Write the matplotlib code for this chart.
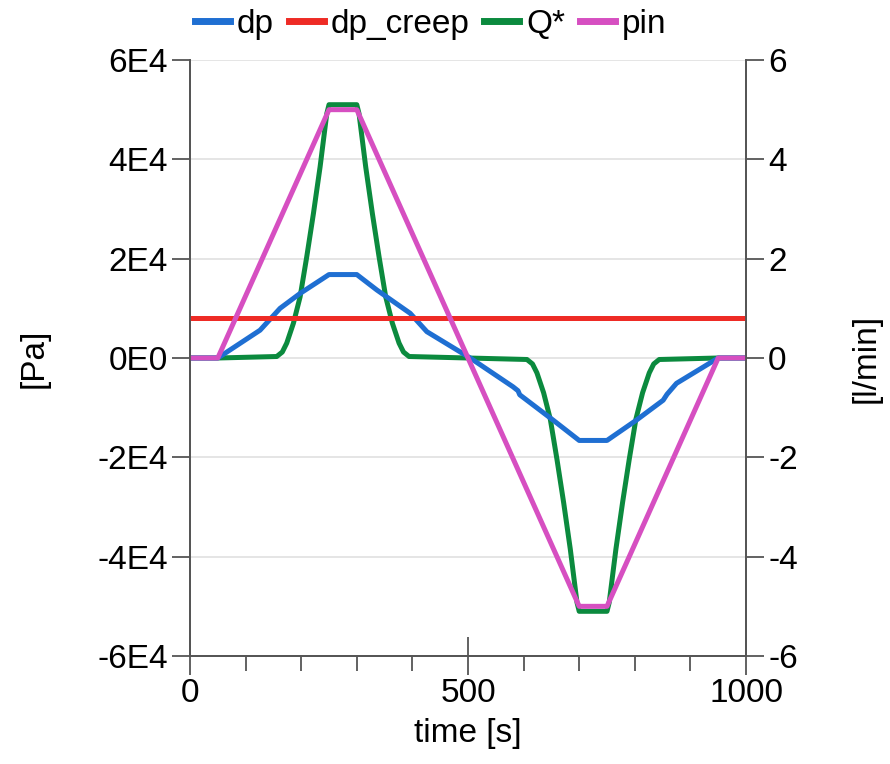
import matplotlib
matplotlib.use("Agg")
import matplotlib.pyplot as plt
from matplotlib.ticker import MultipleLocator

plt.rcParams['font.family'] = ['Liberation Sans', 'DejaVu Sans']
plt.rcParams['axes.unicode_minus'] = False

# dp [Pa]
dp_t = [0, 50, 126, 162, 198, 250, 300, 336, 396, 426, 504,
        581, 590, 593, 653, 700, 750, 803, 851, 858, 875, 950, 1000]
dp_v = [0, 0, 5600, 10000, 13000, 16800, 16800, 13700, 9000, 5300, 0,
        -5800, -6600, -7400, -12500, -16600, -16600, -12500, -8500, -7300, -5100, 0, 0]

# dp_creep [Pa]
creep_t = [0, 1000]
creep_v = [8000, 8000]

# Q* [l/min]
q_t = [0, 50, 156, 166, 174, 186, 198, 210, 222, 234, 246, 250,
       300, 304, 316, 328, 340, 352, 364, 376, 384, 394, 500,
       606, 616, 624, 636, 648, 660, 672, 684, 696, 700,
       750, 754, 766, 778, 790, 802, 814, 826, 834, 844, 950, 1000]
q_v = [0, 0, 0.03, 0.12, 0.30, 0.70, 1.23, 2.04, 2.91, 3.85, 4.92, 5.1,
       5.1, 4.92, 3.85, 2.91, 2.04, 1.23, 0.70, 0.30, 0.12, 0.03, 0,
       -0.03, -0.12, -0.30, -0.70, -1.23, -2.04, -2.91, -3.85, -4.92, -5.1,
       -5.1, -4.92, -3.85, -2.91, -2.04, -1.23, -0.70, -0.30, -0.12, -0.03, 0, 0]

# pin [Pa]
pin_t = [0, 50, 250, 300, 700, 750, 950, 1000]
pin_v = [0, 0, 50000, 50000, -50000, -50000, 0, 0]

yticks_left = [-60000, -40000, -20000, 0, 20000, 40000, 60000]
ylabels_left = ['-6E4', '-4E4', '-2E4', '0E0', '2E4', '4E4', '6E4']
yticks_right = [-6, -4, -2, 0, 2, 4, 6]

c_dp = '#1f6fd2'
c_creep = '#ee2b25'
c_q = '#0b8a3e'
c_pin = '#d64fc1'
c_axis = '#555555'
lw = 3.6

fig = plt.figure(figsize=(8.9, 7.64), dpi=100)
ax = fig.add_axes([190 / 890, 108 / 764, 556 / 890, 596 / 764])
ax2 = ax.twinx()

# Q* lives on the right axis, drawn underneath the left-axis lines
ax.set_zorder(ax2.get_zorder() + 1)
ax.patch.set_visible(False)

l_q, = ax2.plot(q_t, q_v, color=c_q, lw=lw, label='Q*')
l_dp, = ax.plot(dp_t, dp_v, color=c_dp, lw=lw, label='dp')
l_cr, = ax.plot(creep_t, creep_v, color=c_creep, lw=lw, label='dp_creep')
l_pin, = ax.plot(pin_t, pin_v, color=c_pin, lw=lw, label='pin')

ax.set_xlim(0, 1000)
ax.set_ylim(-60000, 60000)
ax2.set_ylim(-6, 6)

ax.set_yticks(yticks_left)
ax.set_yticklabels(ylabels_left)
ax2.set_yticks(yticks_right)
ax.set_xticks([0, 500, 1000])
ax.xaxis.set_minor_locator(MultipleLocator(100))

# grid on the bottom axes so it stays under every line
ax2.xaxis.set_minor_locator(MultipleLocator(100))
ax2.grid(True, which='both', axis='x', color='#e3e3e3', lw=1.3)
ax2.grid(True, which='major', axis='y', color='#e3e3e3', lw=1.3)
ax2.set_axisbelow(True)

for a in (ax, ax2):
    a.spines['top'].set_visible(False)
    for s in ('left', 'right', 'bottom'):
        a.spines[s].set_color(c_axis)
        a.spines[s].set_linewidth(1.3)

ax.tick_params(axis='y', direction='out', length=13, width=1.3, color=c_axis,
               labelsize=24, pad=3)
ax2.tick_params(axis='y', direction='out', length=13, width=1.3, color=c_axis,
                labelsize=24, pad=3)
ax.tick_params(axis='x', which='major', direction='inout', length=28, width=1.3,
               color=c_axis, labelsize=24, pad=2)
ax.tick_params(axis='x', which='minor', direction='out', length=11, width=1.3,
               color=c_axis)
ax2.tick_params(axis='x', which='both', length=0)

ax.set_xlabel('time [s]', fontsize=24, labelpad=6)
ax.set_ylabel('[Pa]', fontsize=24, labelpad=34)
ax2.set_ylabel('[l/min]', fontsize=24, labelpad=38, rotation=90)

leg = ax.legend(handles=[l_dp, l_cr, l_q, l_pin], loc='lower center',
                bbox_to_anchor=(0.433, 1.028), ncol=4, frameon=False, fontsize=24,
                handlelength=1.05, handletextpad=0.2, columnspacing=0.45,
                borderaxespad=0, borderpad=0.1)
for h in leg.get_lines():
    h.set_linewidth(5)

fig.savefig('out.png', dpi=100)
